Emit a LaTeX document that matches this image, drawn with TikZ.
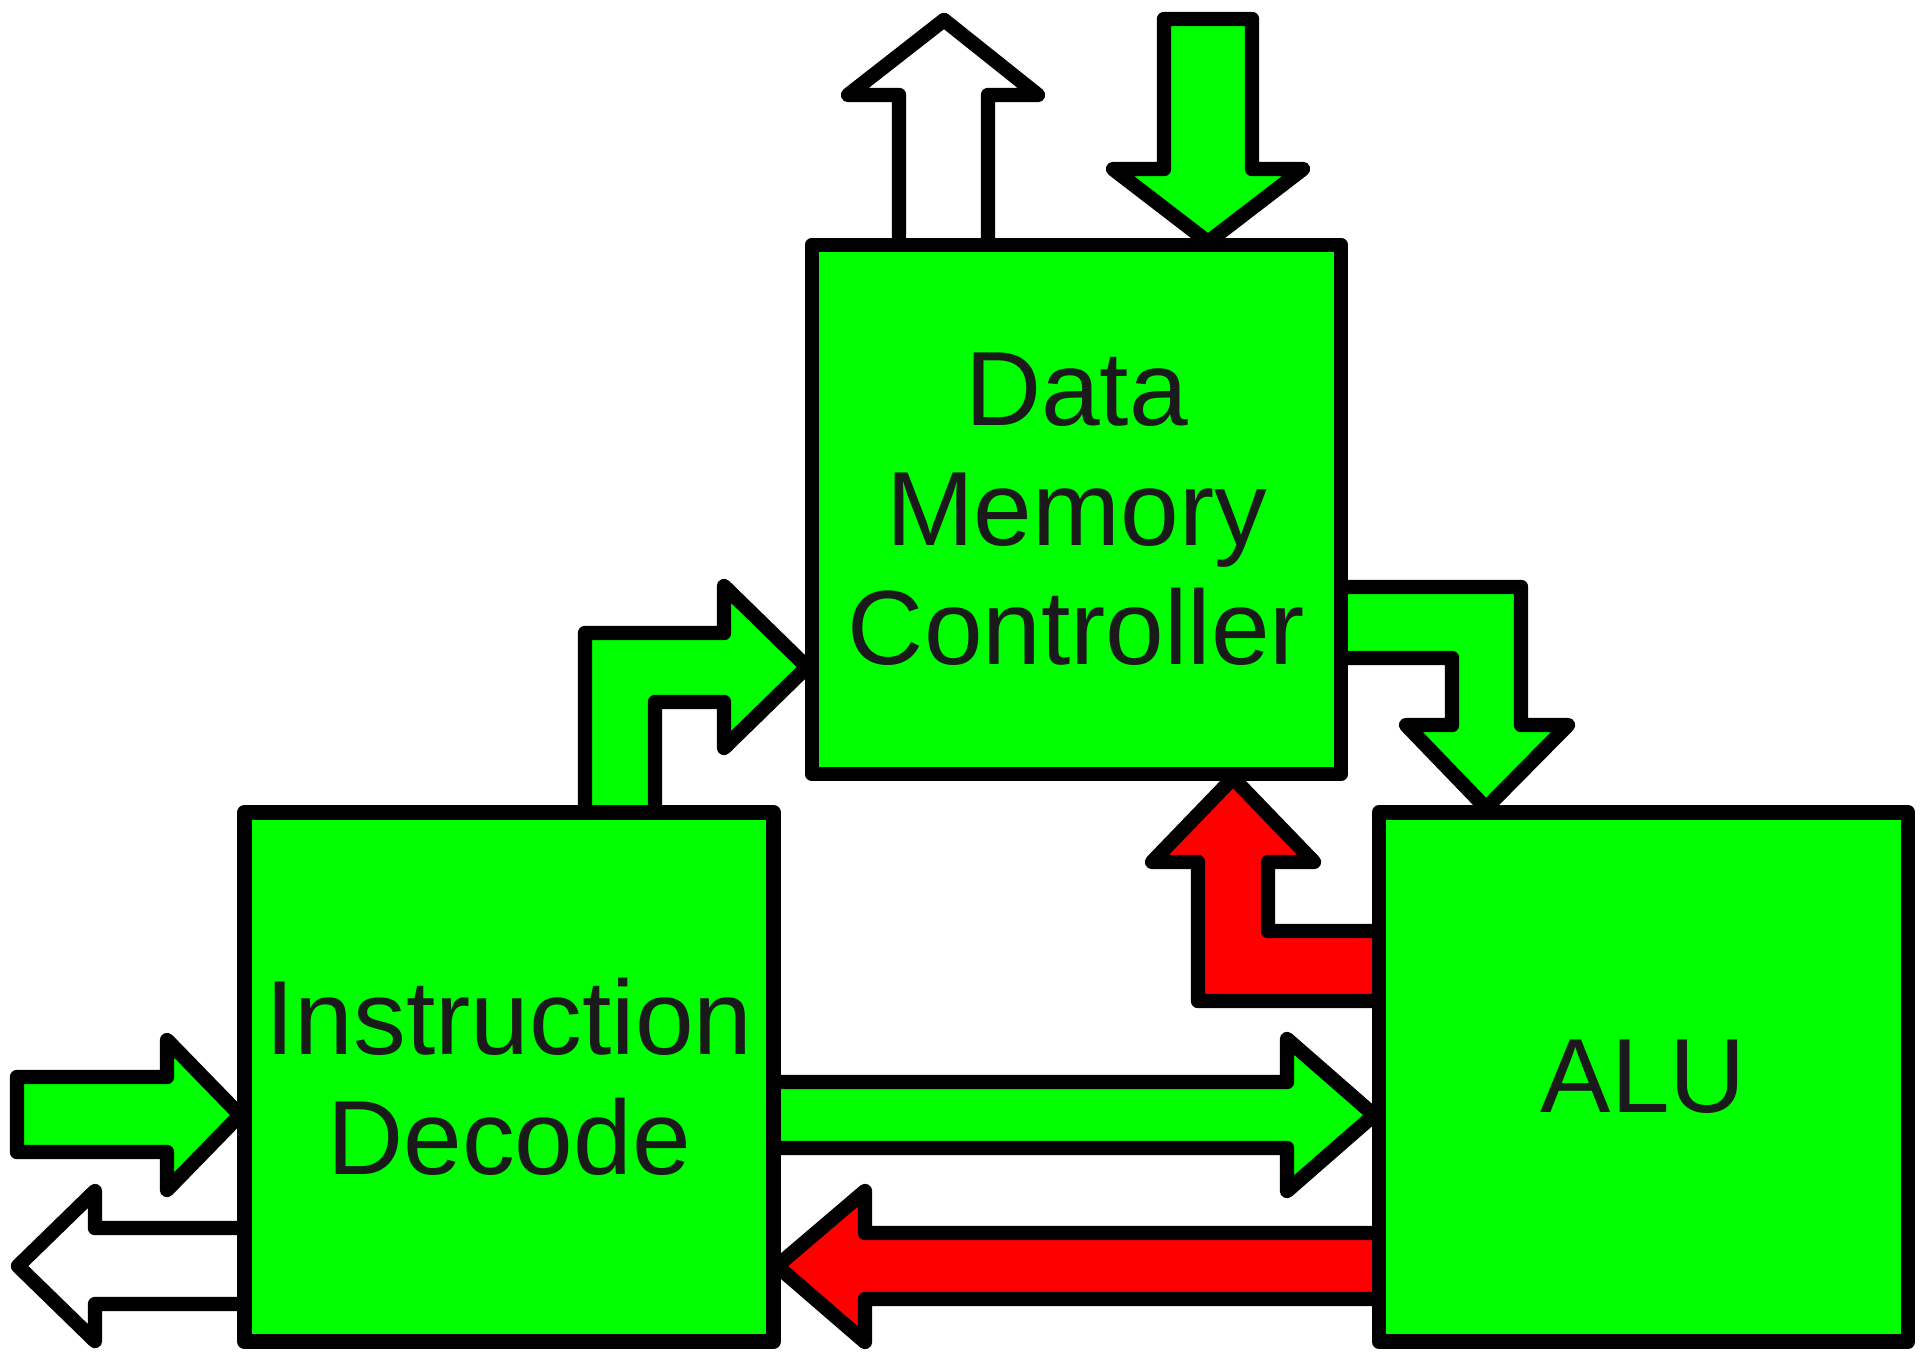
\documentclass[tikz,border=0pt]{standalone}
\usepackage{fontspec}
\setmainfont{Liberation Sans}
\definecolor{busgreen}{HTML}{00FF00}
\definecolor{busred}{HTML}{FF0000}
\definecolor{inkgray}{HTML}{1A1A1A}

\begin{document}
\begin{tikzpicture}[x=0.01cm,y=-0.01cm,line width=4.1pt,line join=round]
		\useasboundingbox (0,0) rectangle (1931,1351);
		\begin{scope}[every path/.style={draw=black}]
		    % memory bus in and out
		    \path[fill=white] (899,250) -- (899,95) -- (848,95) -- (944,20) -- (1038,95) -- (988,95) -- (988,250) -- cycle;
		    \path[fill=busgreen] (1164,19) -- (1252,19) -- (1252,169) -- (1303,169) -- (1208,242) -- (1113,169) -- (1164,169) -- cycle;
		    % decode to memory, memory to alu
		    \path[fill=busgreen] (585,818) -- (585,633) -- (724,633) -- (724,586) -- (807,667) -- (724,748) -- (724,702) -- (655,702) -- (655,818) -- cycle;
		    \path[fill=busgreen] (1336,587) -- (1521,587) -- (1521,725) -- (1568,725) -- (1486,808) -- (1406,725) -- (1452,725) -- (1452,658) -- (1336,658) -- cycle;
		    \path[fill=busred] (1384,1001) -- (1198,1001) -- (1198,862) -- (1152,862) -- (1233,778) -- (1314,862) -- (1268,862) -- (1268,931) -- (1384,931) -- cycle;
		    % decode and alu
		    \path[fill=busgreen] (768,1082) -- (1287,1082) -- (1287,1039) -- (1374,1115) -- (1287,1191) -- (1287,1148) -- (768,1148) -- cycle;
		    \path[fill=busred] (1384,1233) -- (865,1233) -- (865,1191) -- (777,1266) -- (865,1342) -- (865,1299) -- (1384,1299) -- cycle;
		    % instruction in, control out
		    \path[fill=busgreen] (17,1077) -- (167,1077) -- (167,1040) -- (240,1115) -- (167,1190) -- (167,1152) -- (17,1152) -- cycle;
		    \path[fill=white] (250,1228) -- (95,1228) -- (95,1191) -- (18,1266) -- (95,1341) -- (95,1304) -- (250,1304) -- cycle;
		\end{scope}

		\begin{scope}[every node/.style={draw,fill=busgreen,text=inkgray,align=center,inner sep=0pt,
		              minimum width=5.29cm,minimum height=5.29cm,font=\fontsize{30}{34}\selectfont}]
		    \node (dmc) at (1076.5,509.5) {Data\\Memory\\Controller};
		    \node (idec) at (509,1077) {Instruction\\Decode};
		    \node (alu) at (1643.5,1077) {ALU};
		\end{scope}
\end{tikzpicture}
\end{document}
